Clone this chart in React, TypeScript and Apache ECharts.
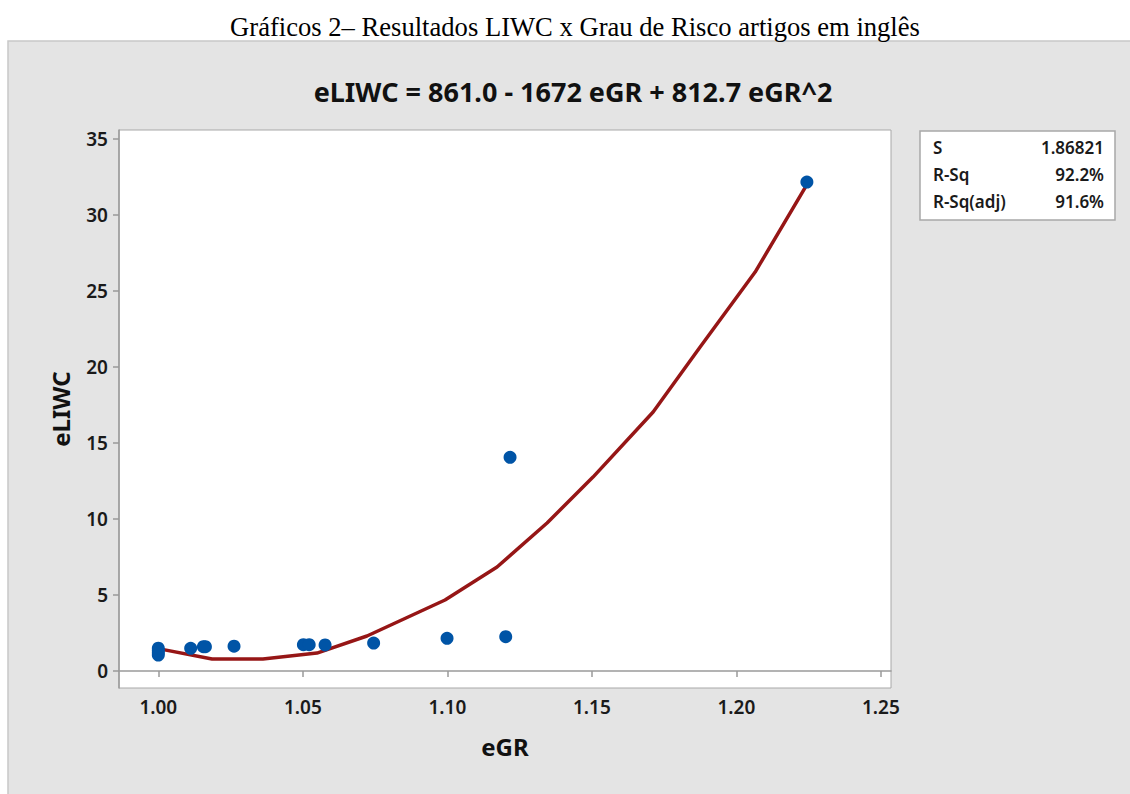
import React, { useEffect, useRef } from "react";
import * as echarts from "echarts";

// Observed data (eGR, eLIWC)
const egr = [1.0, 1.0, 1.0, 1.0, 1.0112, 1.0156, 1.0163, 1.0262, 1.0502, 1.0522, 1.0577, 1.0745, 1.0999, 1.1202, 1.1217, 1.2244];
const eliwc = [1.05, 1.2, 1.35, 1.5, 1.49, 1.6, 1.6, 1.63, 1.73, 1.73, 1.71, 1.84, 2.15, 2.26, 14.06, 32.17];

// Fitted line as drawn in the picture
const fitX = [1.0, 1.0186, 1.0362, 1.0549, 1.0722, 1.0992, 1.1172, 1.1345, 1.1504, 1.1712, 1.1874, 1.2065, 1.2244];
const fitY = [1.47, 0.79, 0.79, 1.18, 2.3, 4.67, 6.84, 9.74, 12.76, 17.04, 21.3, 26.25, 32.0];

const xTicks = [1.0, 1.05, 1.1, 1.15, 1.2, 1.25];
const yTicks = [0, 5, 10, 15, 20, 25, 30, 35];

const statLabels = ["S", "R-Sq", "R-Sq(adj)"];
const statValues = ["1.86821", "92.2%", "91.6%"];

const pageTitle = "Gráficos 2– Resultados LIWC x Grau de Risco artigos em inglês";
const chartTitle = "eLIWC = 861.0 - 1672 eGR + 812.7 eGR^2";

const SANS = "'Noto Sans', 'Open Sans', sans-serif";

export default function App() {
  const ref = useRef<HTMLDivElement>(null);
  useEffect(() => {
    if (!ref.current) return;
    const chart = echarts.init(ref.current, null, { renderer: "svg" });
    const statTexts: any[] = [];
    statLabels.forEach((l, i) => {
      statTexts.push({
        type: "text", x: 933, y: 147 + i * 27,
        style: { text: l, fill: "#1a1a1a", font: `600 17px ${SANS}`, align: "left", verticalAlign: "middle" },
      });
      statTexts.push({
        type: "text", x: 1104, y: 147 + i * 27,
        style: { text: statValues[i], fill: "#1a1a1a", font: `600 17px ${SANS}`, align: "right", verticalAlign: "middle" },
      });
    });
    chart.setOption({
      animation: false,
      backgroundColor: "#ffffff",
      graphic: [
        {
          type: "rect", z: -100, silent: true,
          shape: { x: 8, y: 41, width: 1140, height: 770 },
          style: { fill: "#e4e4e4", stroke: "#c8c8c8", lineWidth: 1.5 },
        },
        {
          type: "text", x: 575, y: 27,
          style: { text: pageTitle, fill: "#000", font: "26.6px 'Liberation Serif', 'Times New Roman', serif", align: "center", verticalAlign: "middle" },
        },
        {
          type: "text", x: 573, y: 91,
          style: { text: chartTitle, fill: "#111", font: `bold 27px ${SANS}`, align: "center", verticalAlign: "middle" },
        },
        {
          type: "rect",
          shape: { x: 920, y: 131, width: 195, height: 89 },
          style: { fill: "#ffffff", stroke: "#a8a8a8", lineWidth: 1.5 },
        },
        ...statTexts,
      ],
      grid: {
        left: 119, top: 130, width: 772, height: 558,
        show: true, backgroundColor: "#ffffff", borderColor: "#a8a8a8", borderWidth: 1,
      },
      xAxis: {
        type: "value",
        min: 0.9864, max: 1.2535,
        name: "eGR", nameLocation: "middle", nameGap: 46,
        nameTextStyle: { fontFamily: SANS, fontWeight: "bold", fontSize: 24, color: "#111" },
        axisLine: { show: true, lineStyle: { color: "#9a9a9a", width: 1.5 } },
        axisTick: { show: true, length: 6, lineStyle: { color: "#9a9a9a", width: 1.5 }, customValues: xTicks },
        axisLabel: {
          customValues: xTicks, margin: 9, fontFamily: SANS, fontSize: 19, fontWeight: 600, color: "#1a1a1a",
          formatter: (v: number) => v.toFixed(2),
        },
        splitLine: { show: false },
      },
      yAxis: {
        type: "value",
        min: -1.12, max: 35.6,
        name: "eLIWC", nameLocation: "middle", nameGap: 47,
        nameTextStyle: { fontFamily: SANS, fontWeight: "bold", fontSize: 24, color: "#111" },
        axisLine: { show: true, lineStyle: { color: "#9a9a9a", width: 1.5 } },
        axisTick: { show: true, length: 6, lineStyle: { color: "#9a9a9a", width: 1.5 }, customValues: yTicks },
        axisLabel: {
          customValues: yTicks, margin: 11, fontFamily: SANS, fontSize: 19, fontWeight: 600, color: "#1a1a1a",
          formatter: (v: number) => String(Math.round(v)),
        },
        splitLine: { show: false },
      },
      series: [
        {
          type: "line",
          data: fitX.map((x, i) => [x, fitY[i]]),
          showSymbol: false, smooth: false,
          lineStyle: { color: "#961616", width: 3.5 },
          z: 2,
        },
        {
          type: "scatter",
          data: egr.map((x, i) => [x, eliwc[i]]),
          symbol: "circle", symbolSize: 13,
          itemStyle: { color: "#0054a6", opacity: 1 },
          z: 3,
        },
      ],
    });
    return () => chart.dispose();
  }, []);
  return <div ref={ref} style={{ position: "absolute", left: 0, top: 0, width: 1130, height: 794 }} />;
}
